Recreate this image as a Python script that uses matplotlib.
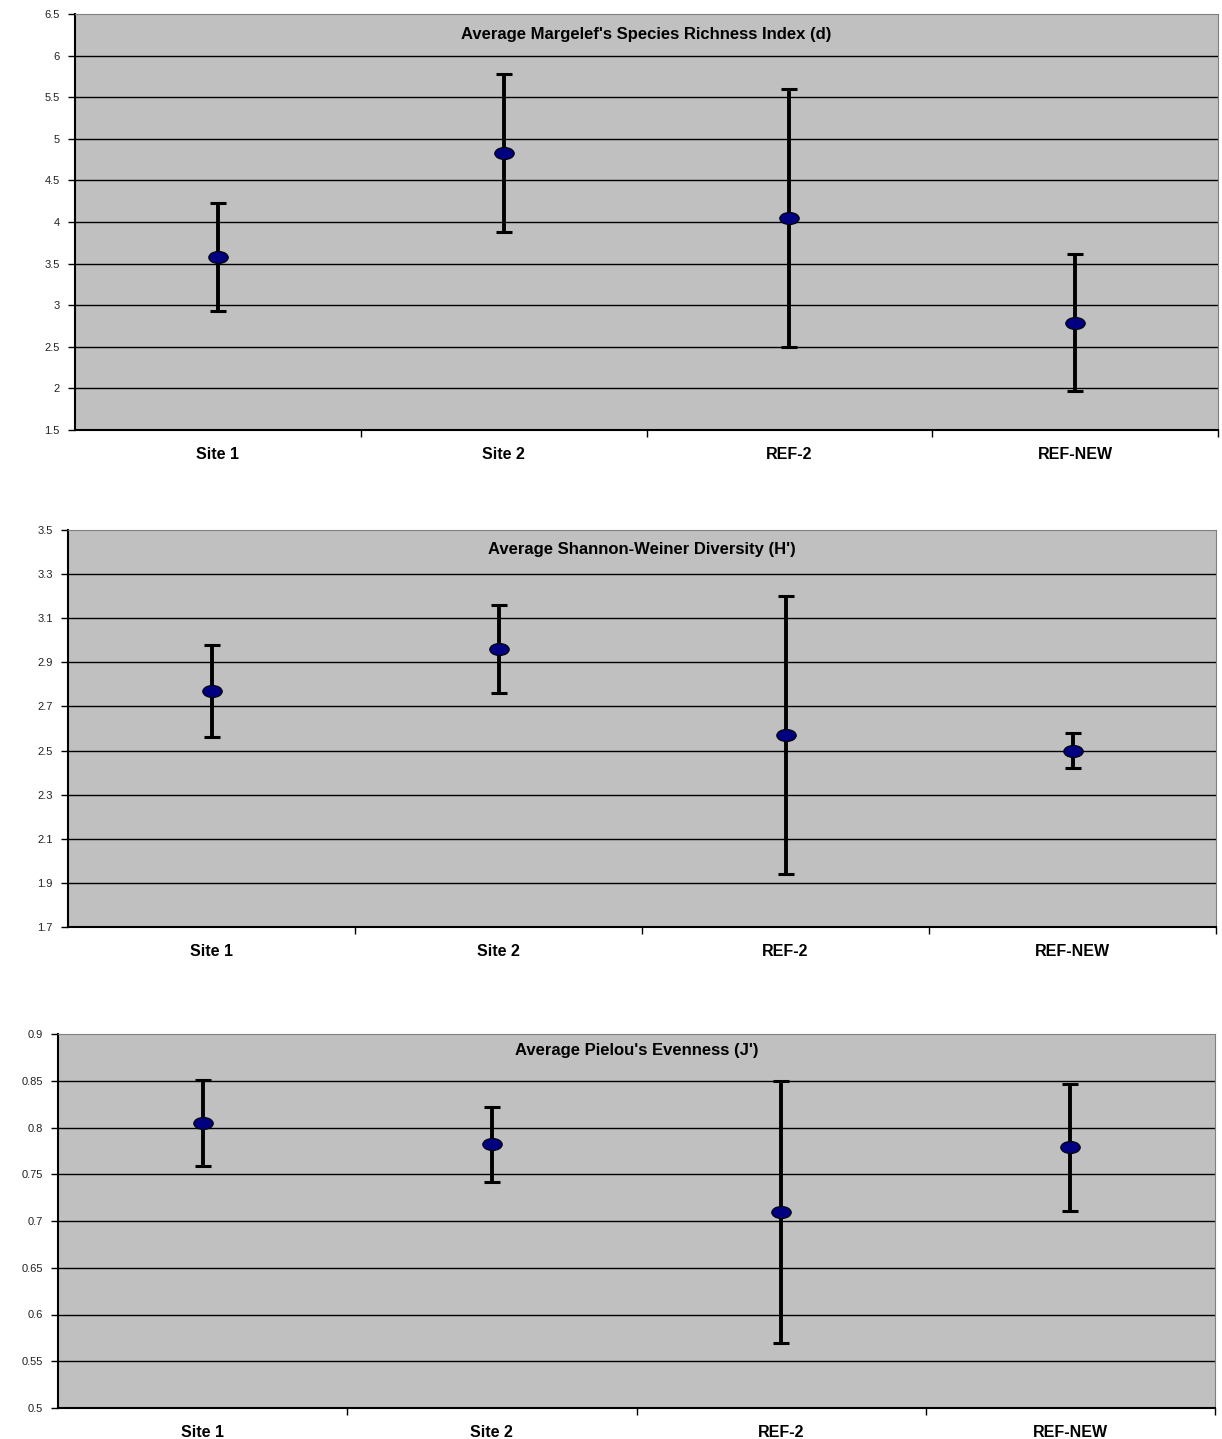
import matplotlib
matplotlib.use("Agg")
import matplotlib.pyplot as plt
from matplotlib.path import Path
from matplotlib.transforms import Affine2D
import numpy as np

plt.rcParams['font.family'] = ['Liberation Sans', 'DejaVu Sans']

categories = ["Site 1", "Site 2", "REF-2", "REF-NEW"]

richness_mean = [3.58, 4.83, 4.05, 2.79]
richness_err = [0.65, 0.95, 1.55, 0.82]

shannon_mean = [2.77, 2.96, 2.57, 2.50]
shannon_err = [0.21, 0.20, 0.63, 0.08]

evenness_mean = [0.805, 0.782, 0.710, 0.779]
evenness_err = [0.046, 0.040, 0.140, 0.068]

titles = ["Average Margelef's Species Richness Index (d)",
          "Average Shannon-Weiner Diversity (H')",
          "Average Pielou's Evenness (J')"]

yticks_list = [
    [1.5, 2, 2.5, 3, 3.5, 4, 4.5, 5, 5.5, 6, 6.5],
    [1.7, 1.9, 2.1, 2.3, 2.5, 2.7, 2.9, 3.1, 3.3, 3.5],
    [0.5, 0.55, 0.6, 0.65, 0.7, 0.75, 0.8, 0.85, 0.9],
]
ytick_labels = [
    ["1.5", "2", "2.5", "3", "3.5", "4", "4.5", "5", "5.5", "6", "6.5"],
    ["1.7", "1.9", "2.1", "2.3", "2.5", "2.7", "2.9", "3.1", "3.3", "3.5"],
    ["0.5", "0.55", "0.6", "0.65", "0.7", "0.75", "0.8", "0.85", "0.9"],
]

W, H = 1222, 1439
fig = plt.figure(figsize=(W / 100, H / 100), dpi=100)

# pixel boxes: left, right, top, bottom
boxes = [(75, 1218, 14, 430), (68, 1216, 530, 927), (58, 1215, 1034, 1408)]
title_y = [35, 550, 1050]

means = [richness_mean, shannon_mean, evenness_mean]
errs = [richness_err, shannon_err, evenness_err]

ellipse = Path.unit_circle().transformed(Affine2D().scale(1.0, 0.62))

for i in range(3):
    l, r, t, b = boxes[i]
    ax = fig.add_axes([l / W, 1 - b / H, (r - l) / W, (b - t) / H])
    ax.set_facecolor('#C0C0C0')
    x = np.arange(len(categories))
    ax.errorbar(x, means[i], yerr=errs[i], fmt='none', ecolor='black',
                elinewidth=2.8, capsize=6, capthick=2.2, zorder=3)
    ax.plot(x, means[i], linestyle='none', marker=ellipse, markersize=14,
            markerfacecolor='#000080', markeredgecolor='black',
            markeredgewidth=0.8, zorder=4)
    ax.set_xlim(-0.5, len(categories) - 0.5)
    yt = yticks_list[i]
    ax.set_ylim(yt[0], yt[-1])
    ax.set_yticks(yt)
    ax.set_yticklabels(ytick_labels[i], fontsize=8, color='#222222')
    ax.set_xticks(x)
    ax.set_xticklabels(categories, fontsize=11.5, fontweight='bold')
    ax.set_xticks(np.arange(len(categories)) + 0.5, minor=True)
    ax.tick_params(axis='x', which='major', length=0, pad=12)
    ax.tick_params(axis='x', which='minor', length=5, width=1, direction='out')
    ax.tick_params(axis='y', length=5, width=1, direction='out', pad=6)
    for yv in yt[1:-1]:
        ax.axhline(yv, color='black', linewidth=1, zorder=1)
    ax.spines['top'].set_color('#808080')
    ax.spines['right'].set_color('#808080')
    ax.spines['left'].set_linewidth(1.5)
    ax.spines['bottom'].set_linewidth(1.5)
    ax.text(0.5, 1 - (title_y[i] - t) / (b - t), titles[i],
            transform=ax.transAxes, ha='center', va='center',
            fontsize=12, fontweight='bold')

fig.savefig('out.png', dpi=100)
